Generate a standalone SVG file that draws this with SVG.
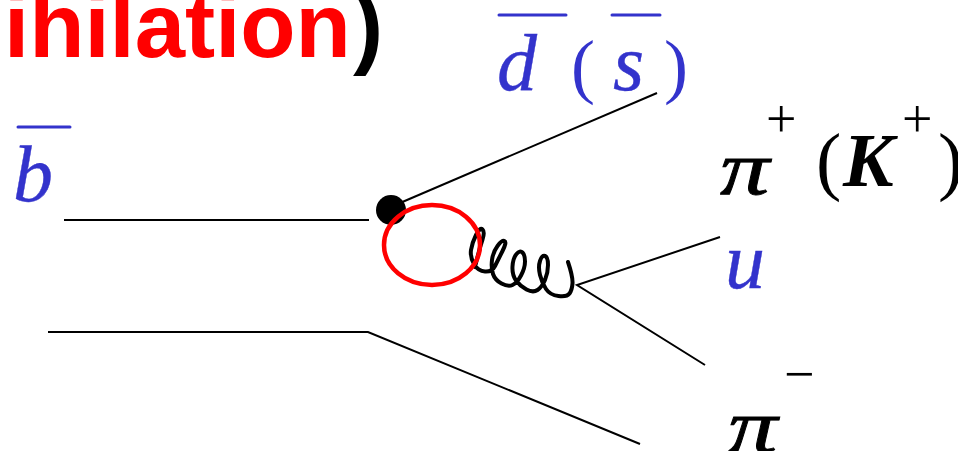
<svg xmlns="http://www.w3.org/2000/svg" width="958" height="451" viewBox="0 0 958 451">
<style>
text{font-family:"Liberation Serif",serif}
.b{fill:#3333cc;font-style:italic;font-size:80px;stroke:#3333cc;stroke-width:.4}
.bp{fill:#3333cc;font-size:72px}
.k{fill:#000;font-size:76px}
.i{font-style:italic;font-weight:700}
.pi{font-style:italic;font-size:76px;fill:#000;stroke:#000;stroke-width:.8}
.s{font-size:54px;font-weight:400}
.o{stroke:#3333cc;stroke-width:3;fill:none;stroke-linecap:round}
.l{stroke:#000;stroke-width:2;fill:none}
</style>
<rect width="958" height="451" fill="#fff"/>
<g id="title"><text x="4" y="57" font-size="90.5" font-weight="700" style="font-family:'Liberation Sans',sans-serif" fill="#ff0000">ihilation<tspan fill="#000" dx="2">)</tspan></text></g>
<g id="connectors">
<path class="l" d="M64 220H369"/>
<path class="l" d="M400 203L657 93"/>
<path class="l" d="M48 332H368L640 444"/>
<path class="l" d="M720 237L577 285L705 365"/>
<path d="M475 267L477.5 257Q480 247 482.5 239.5Q485 232 482.5 229.5Q480 227 476 235Q472 243 471 250Q470 257 474 264Q478 271 485 271.5Q492 272 495 266Q498 260 502.5 251Q507 242 504.5 241Q502 240 497.5 246Q493 252 492 260Q491 268 493 274Q495 280 501.5 283.5Q508 287 512.5 285Q517 283 521 275.5Q525 268 525 261.5Q525 255 522.5 252.5Q520 250 516.5 254Q513 258 512.5 266.5Q512 275 516 280.5Q520 286 526.5 289.5Q533 293 537.5 290Q542 287 545 280Q548 273 548 265Q548 257 545 256Q542 255 540 261Q538 267 540 275Q542 283 546 289Q550 295 558.5 296Q567 297 569.5 293.5Q572 290 572.5 283.5Q573 277 568 262" fill="none" stroke="#000" stroke-width="4" stroke-linecap="round" stroke-linejoin="round"/>
</g>
<g id="vertex"><circle cx="391" cy="210" r="15" fill="#000"/></g>
<g id="loop"><ellipse cx="432" cy="245" rx="48" ry="40" fill="none" stroke="#ff0000" stroke-width="4.5"/></g>
<g id="label-d"><path class="o" d="M499 15H566M612 15H660"/><text x="497" y="90" class="b">d</text><text x="571" y="90" class="bp">(</text><text x="613" y="90" class="b">s</text><text x="664" y="90" class="bp">)</text></g>
<g id="label-b"><path class="o" d="M18 127H70"/><text x="13" y="201" class="b">b</text></g>
<g id="label-pi-plus"><text transform="translate(720 194) scale(1.3 1)" class="pi">π</text><text x="766" y="137" class="k s">+</text><text x="816" y="186" class="k">(</text><text x="843" y="186" class="k i">K</text><text x="902" y="137" class="k s">+</text><text x="938" y="186" class="k">)</text></g>
<g id="label-u"><text x="725" y="288" class="b">u</text></g>
<g id="label-pi-minus"><text transform="translate(728 452) scale(1.3 1)" class="pi">π</text><text x="784" y="392" class="k s">−</text></g>
</svg>
